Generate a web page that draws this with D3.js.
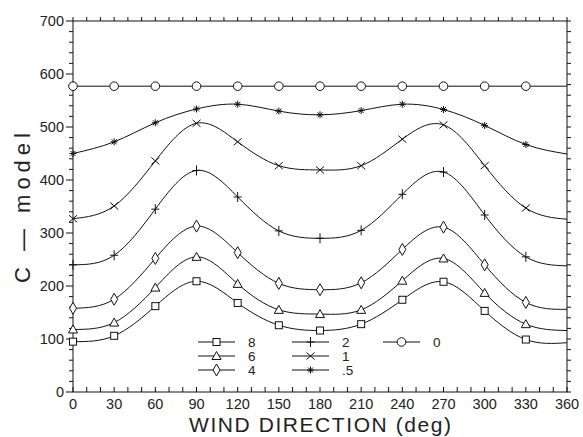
<!DOCTYPE html>
<html><head><meta charset="utf-8">
<script src="https://cdn.jsdelivr.net/npm/d3@7"></script>
<style>body{margin:0;background:#fff}svg{display:block}text{font-family:"Liberation Sans",Arial,sans-serif;fill:#222}</style>
</head><body><svg id="c" width="583" height="437"></svg>
<script>
const directions = [0,30,60,90,120,150,180,210,240,270,300,330,360];
const seriesNames = ["8","6","4","2","1",".5","0"];
const s8  = [95,106,162,209,168,126,116,128,174,208,153,99,93];
const s6  = [118,131,197,255,204,155,147,155,210,252,187,128,116];
const s4  = [158,175,252,313,263,205,193,206,269,311,240,169,156];
const s2  = [240,258,345,418,368,304,290,305,373,415,334,255,238];
const s1  = [327,351,436,507,472,427,419,427,477,504,427,347,326];
const s05 = [450,472,508,534,543,530,523,531,543,533,503,467,449];
const s0  = [577,577,577,577,577,577,577,577,577,577,577,577,577];
const seriesValues = [s8,s6,s4,s2,s1,s05,s0];
const markerTypes = ["square","triangle","diamond","plus","cross","star","circle"];
const xTicks = [0,30,60,90,120,150,180,210,240,270,300,330,360];
const yTicks = [0,100,200,300,400,500,600,700];

const svg = d3.select("#c");
const L=73,R=567,T=21,B=392;
const x = d3.scaleLinear().domain([0,360]).range([L,R]);
const y = d3.scaleLinear().domain([0,700]).range([B,T]);

svg.append("rect").attr("x",L).attr("y",T).attr("width",R-L).attr("height",B-T)
  .attr("fill","none").attr("stroke","#111").attr("stroke-width",1);

const g = svg.append("g").attr("stroke","#111").attr("stroke-width",1);
d3.range(0,701,20).forEach(v=>{
  const major = v%100===0;
  g.append("line").attr("x1",L-(major?7:4)).attr("x2",L).attr("y1",y(v)).attr("y2",y(v));
  g.append("line").attr("x1",R).attr("x2",R+4).attr("y1",y(v)).attr("y2",y(v));
});
d3.range(0,361,10).forEach(v=>{
  g.append("line").attr("x1",x(v)).attr("x2",x(v)).attr("y1",B).attr("y2",B-5);
  g.append("line").attr("x1",x(v)).attr("x2",x(v)).attr("y1",T).attr("y2",T-4);
});
svg.append("g").selectAll("text").data(yTicks).join("text")
  .attr("x",L-9).attr("y",d=>y(d)+5).attr("text-anchor","end").attr("font-size",14.5).text(d=>d);
svg.append("g").selectAll("text").data(xTicks).join("text")
  .attr("x",d=>x(d)).attr("y",B+17).attr("text-anchor","middle").attr("font-size",14.5).text(d=>d);

svg.append("text").attr("x",320).attr("y",432).attr("text-anchor","middle").attr("font-size",21)
  .attr("textLength",262).attr("lengthAdjust","spacing").text("WIND  DIRECTION  (deg)");
svg.append("text").attr("transform","translate(30,208) rotate(-90)").attr("text-anchor","middle")
  .attr("font-size",22).attr("textLength",150).attr("lengthAdjust","spacing").text("C \u2014 model");

function marker(sel, type, cx, cy){
  const gm = sel.append("g").attr("transform",`translate(${cx},${cy})`)
    .attr("stroke","#111").attr("stroke-width",1).attr("fill","#fff");
  if(type==="square") gm.append("rect").attr("x",-3.5).attr("y",-3.5).attr("width",7).attr("height",7);
  else if(type==="triangle") gm.append("path").attr("d","M0,-4.5L4.5,3.5L-4.5,3.5Z");
  else if(type==="diamond") gm.append("path").attr("d","M0,-6L3.5,0L0,6L-3.5,0Z");
  else if(type==="circle") gm.append("circle").attr("r",4.3);
  else if(type==="plus") gm.append("path").attr("d","M-4,0H4M0,-5V5").attr("fill","none");
  else if(type==="cross") gm.append("path").attr("d","M-4,-3.5L4,3.5M-4,3.5L4,-3.5").attr("fill","none");
  else if(type==="star") gm.append("path").attr("d","M-3.5,0H3.5M0,-3.5V3.5M-2.5,-2.5L2.5,2.5M-2.5,2.5L2.5,-2.5").attr("fill","none");
}

const line = d3.line().x((d,i)=>x(directions[i])).y(d=>y(d)).curve(d3.curveNatural);
seriesValues.forEach((vals,k)=>{
  svg.append("path").attr("d",line(vals)).attr("fill","none").attr("stroke","#111").attr("stroke-width",1);
  vals.slice(0,12).forEach((v,i)=>marker(svg, markerTypes[k], x(directions[i]), y(v)));
});

const legendPos = [
  [198,342],[198,356],[198,370],
  [292,342],[292,356],[292,370],
  [383,342]];
seriesNames.forEach((name,k)=>{
  const [lx,ly] = legendPos[k];
  svg.append("line").attr("x1",lx).attr("x2",lx+37).attr("y1",ly).attr("y2",ly).attr("stroke","#111");
  marker(svg, markerTypes[k], lx+18.5, ly);
  svg.append("text").attr("x",lx+50).attr("y",ly+5).attr("font-size",13.5).text(name);
});
</script></body></html>
